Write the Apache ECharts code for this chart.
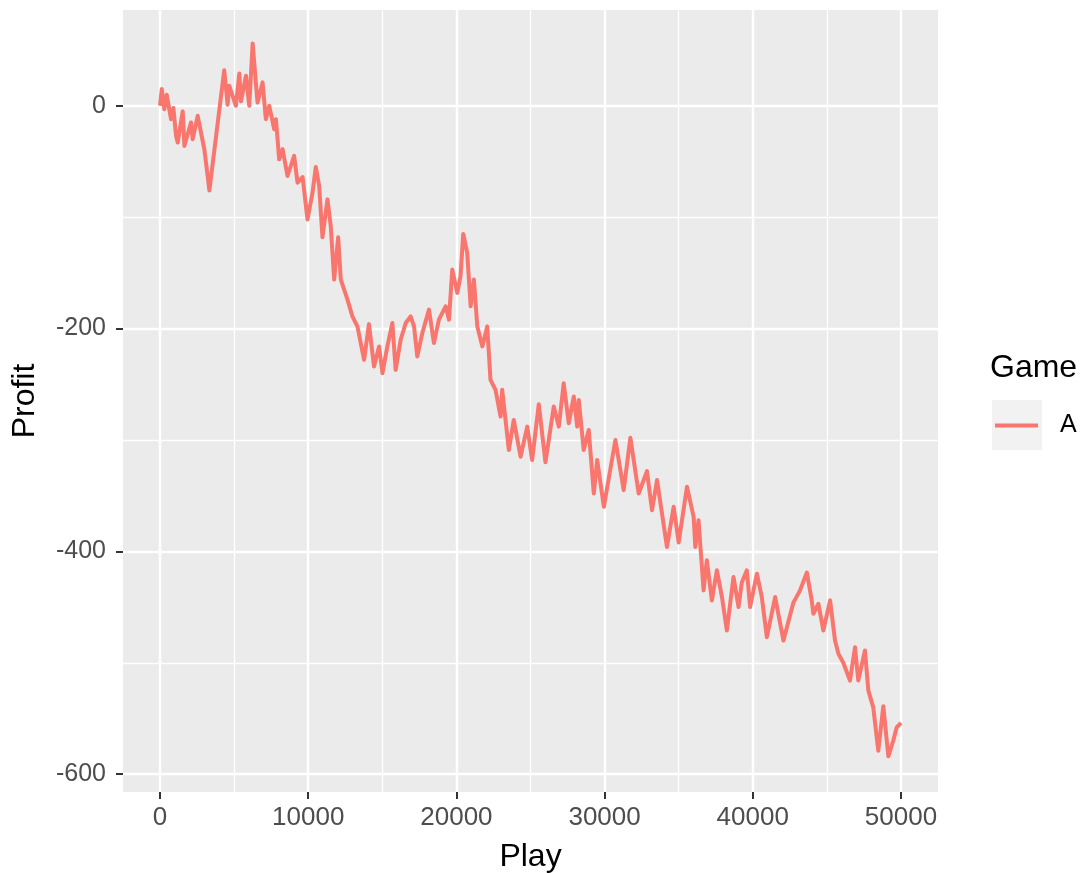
<!DOCTYPE html>
<html>
<head>
<meta charset="utf-8">
<script src="https://cdn.jsdelivr.net/npm/echarts@6/dist/echarts.min.js"></script>
<style>
html,body{margin:0;padding:0;background:#fff;}
#chart{width:1085px;height:873px;}
</style>
</head>
<body>
<div id="chart"></div>
<script>
// ---- data ----
const plays = [0,115,290,450,740,900,1080,1190,1530,1640,2090,2200,2540,2990,3330,4330,4560,4670,5120,5350,5460,5800,6020,6250,6470,6580,6920,7140,7370,7700,7820,8040,8270,8600,9050,9280,9620,9950,10290,10510,10740,10960,11300,11520,11750,12020,12200,12650,12980,13320,13770,14100,14440,14780,15010,15340,15680,15900,16240,16580,16910,17140,17360,17700,18150,18480,18820,19270,19500,19720,20060,20280,20460,20730,20960,21180,21410,21750,22080,22300,22640,22980,23090,23540,23870,24330,24780,25110,25560,26010,26570,26910,27240,27580,27920,28150,28260,28590,28930,29270,29500,29950,30730,31290,31740,32300,32860,33200,33540,34210,34660,35000,35560,36010,36120,36340,36680,36900,37240,37580,37920,38250,38700,39040,39260,39600,39820,40280,40610,40950,41510,42070,42740,43190,43650,43980,44090,44430,44760,45220,45550,45780,46110,46560,46900,47120,47570,47800,48130,48470,48810,49150,49480,49710,50000];
const profit = [0,15,-3,10,-12,-2,-27,-33,-5,-36,-15,-30,-9,-39,-76,32,1,18,0,29,4,27,0,56,20,3,21,-12,0,-21,-12,-48,-39,-63,-45,-69,-64,-102,-78,-55,-72,-118,-84,-108,-156,-118,-156,-174,-189,-198,-228,-196,-234,-216,-240,-216,-195,-237,-210,-195,-189,-198,-225,-204,-183,-213,-192,-180,-192,-147,-168,-153,-115,-132,-180,-156,-198,-216,-198,-246,-255,-279,-255,-309,-282,-315,-288,-318,-268,-320,-270,-288,-249,-285,-261,-288,-264,-309,-291,-348,-318,-360,-300,-345,-298,-348,-328,-363,-336,-396,-360,-392,-342,-369,-396,-372,-435,-408,-444,-417,-441,-471,-423,-450,-428,-417,-450,-420,-441,-477,-441,-480,-446,-435,-419,-444,-456,-447,-471,-444,-480,-492,-500,-516,-486,-516,-489,-525,-540,-579,-539,-584,-570,-558,-554];
const seriesName = 'A';
const legendTitle = 'Game';
const xTicks = [0, 10000, 20000, 30000, 40000, 50000];
const xMinor = [5000, 15000, 25000, 35000, 45000];
const yTicks = [-600, -400, -200, 0];
const yMinor = [-500, -300, -100];
const xTitle = 'Play';
const yTitle = 'Profit';

// ---- chart ----
const FONT = 'Liberation Sans, Arial, Helvetica, sans-serif';
const X_MIN = -2500, X_MAX = 52500;
const Y_MIN = -616, Y_MAX = 86;
const chart = echarts.init(document.getElementById('chart'), null, {renderer: 'canvas'});
const lineData = plays.map((p, i) => [p, profit[i]]);

const noLine = {show: false, onZero: false};
chart.setOption({
  animation: false,
  backgroundColor: '#ffffff',
  textStyle: {fontFamily: FONT},
  title: {
    text: legendTitle, left: 990, top: 352, padding: 0,
    textStyle: {fontFamily: FONT, fontSize: 32, fontWeight: 'normal', color: '#000000'}
  },
  legend: {
    data: [seriesName], orient: 'vertical', left: 995, top: 413, padding: 0,
    icon: 'rect', itemWidth: 43, itemHeight: 4,
    textStyle: {fontFamily: FONT, fontSize: 25, color: '#000000', padding: [0, 0, 0, 17]}
  },
  graphic: [{
    type: 'rect', z: -10,
    shape: {x: 992, y: 400, width: 50, height: 50},
    style: {fill: '#F2F2F2'}
  }],
  grid: {
    left: 123, top: 10, width: 815, height: 782,
    show: true, backgroundColor: '#EBEBEB', borderWidth: 0,
    containLabel: false, outerBoundsMode: 'none'
  },
  xAxis: [{
    type: 'value', min: X_MIN, max: X_MAX, minInterval: 10000, maxInterval: 10000,
    position: 'bottom',
    name: xTitle, nameLocation: 'middle', nameGap: 49,
    nameTextStyle: {fontFamily: FONT, fontSize: 32, color: '#000000'},
    axisLine: noLine,
    axisTick: {show: true, length: 7, lineStyle: {color: '#333333', width: 2}, customValues: xTicks},
    axisLabel: {show: true, margin: 13, fontSize: 26, color: '#4D4D4D', fontFamily: FONT,
      customValues: xTicks, formatter: v => String(v)},
    splitLine: {show: true, lineStyle: {color: '#FFFFFF', width: 2.4}}
  }, {
    type: 'value', min: X_MIN, max: X_MAX, minInterval: 5000, maxInterval: 5000,
    position: 'top',
    axisLine: noLine,
    axisTick: {show: false, customValues: xMinor},
    axisLabel: {show: false},
    splitLine: {show: true, lineStyle: {color: '#FFFFFF', width: 1.3}}
  }],
  yAxis: [{
    type: 'value', min: Y_MIN, max: Y_MAX, minInterval: 200, maxInterval: 200,
    position: 'left',
    name: yTitle, nameLocation: 'middle', nameGap: 82, nameRotate: 90,
    nameTextStyle: {fontFamily: FONT, fontSize: 32, color: '#000000'},
    axisLine: noLine,
    axisTick: {show: true, length: 7, lineStyle: {color: '#333333', width: 2}, customValues: yTicks},
    axisLabel: {show: true, margin: 17, fontSize: 25, color: '#4D4D4D', fontFamily: FONT,
      customValues: yTicks, formatter: v => String(v)},
    splitLine: {show: true, lineStyle: {color: '#FFFFFF', width: 2.4}}
  }, {
    type: 'value', min: Y_MIN, max: Y_MAX, minInterval: 100, maxInterval: 100,
    position: 'right',
    axisLine: noLine,
    axisTick: {show: false, customValues: yMinor},
    axisLabel: {show: false},
    splitLine: {show: true, lineStyle: {color: '#FFFFFF', width: 1.3}}
  }],
  series: [{
    name: seriesName, type: 'line', xAxisIndex: 0, yAxisIndex: 0,
    data: lineData, showSymbol: false, symbol: 'none',
    lineStyle: {color: '#F8766D', width: 4, join: 'round'},
    itemStyle: {color: '#F8766D'},
    z: 5
  }]
});
</script>
</body>
</html>
